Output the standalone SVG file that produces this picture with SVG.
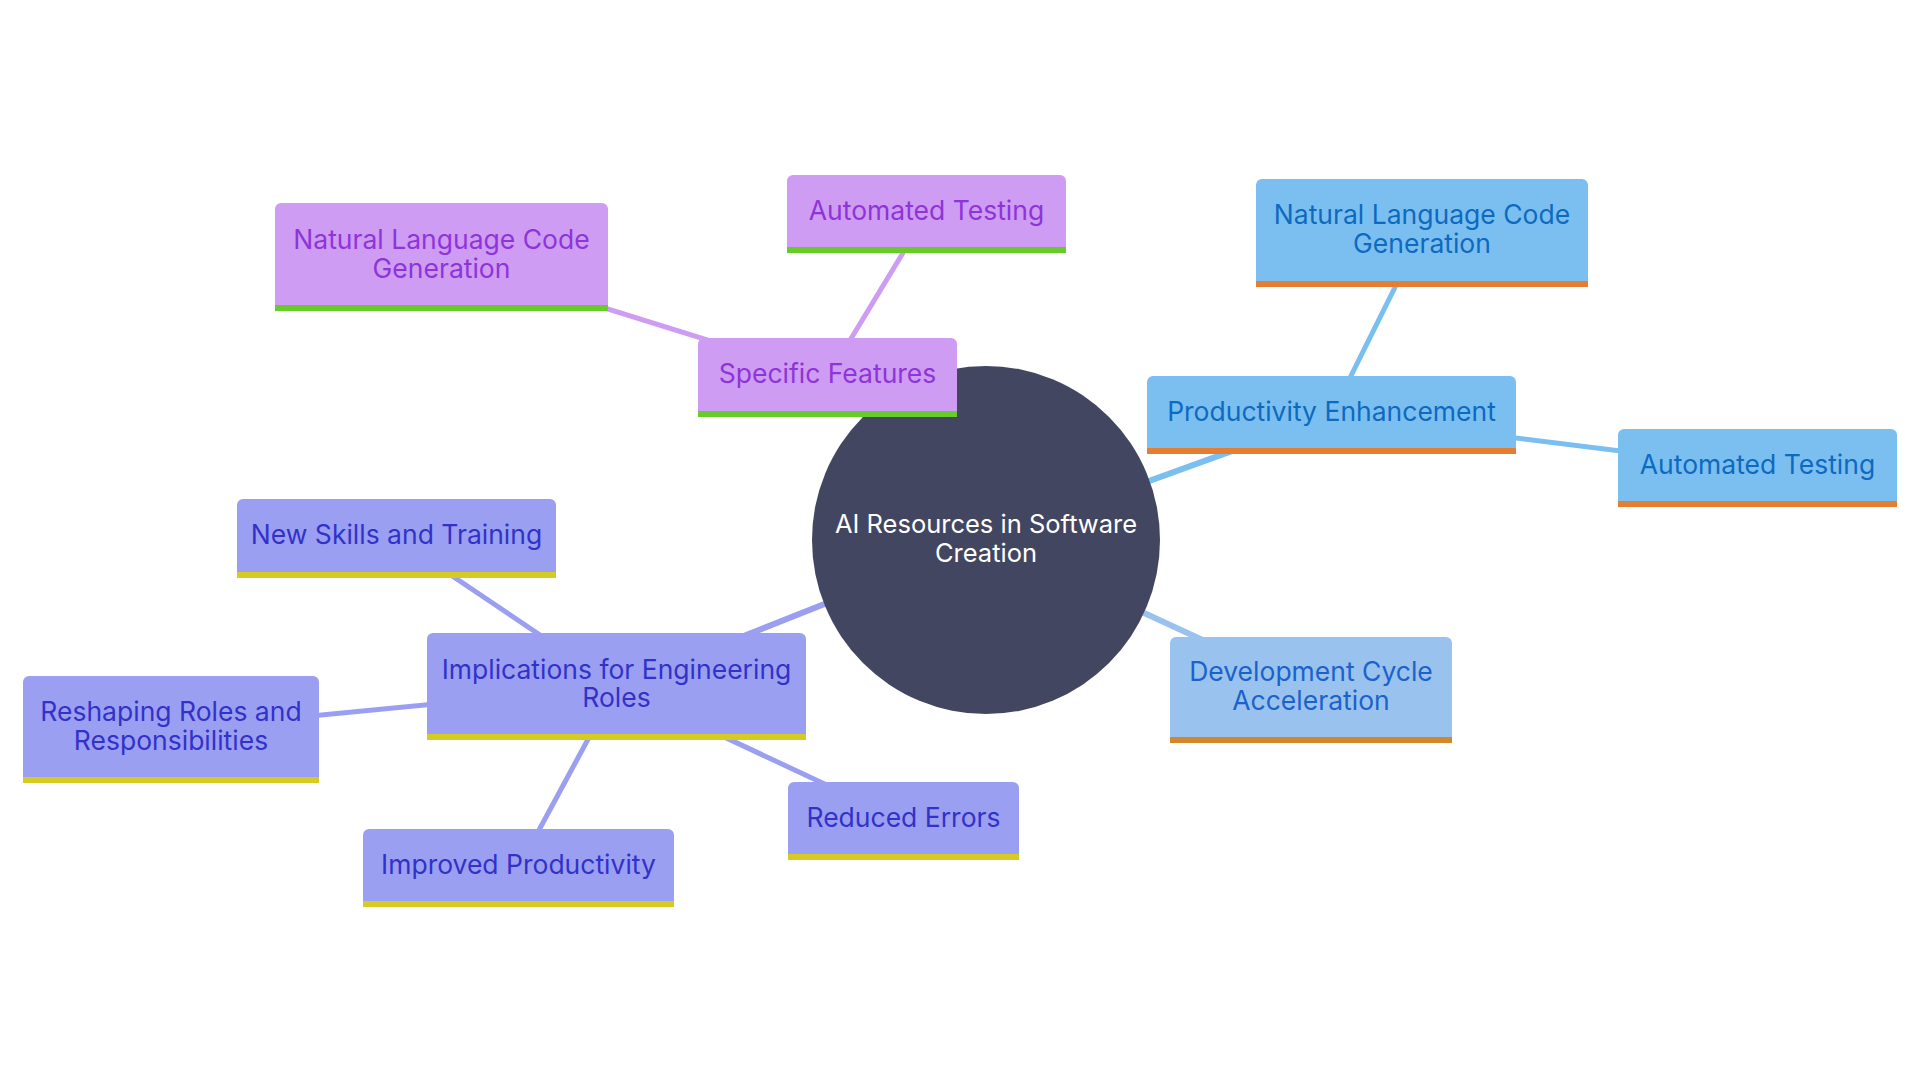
<svg xmlns="http://www.w3.org/2000/svg" width="1920" height="1080" viewBox="0 0 1920 1080">
<style>
  text { font-family: Inter, "Noto Sans", "Liberation Sans", sans-serif; font-size: 26.5px; text-anchor: middle; }
  .edge { fill: none; stroke-linecap: round; }
  .e0 { stroke-width: 6; }
  .e1 { stroke-width: 5; }
  .purple .box { fill: #CE9CF2; }
  .purple .band { fill: #67CB2A; }
  .purple text { fill: #8E34D8; }
  .blue .box { fill: #7BBFF0; }
  .blue .band { fill: #E67E31; }
  .blue text { fill: #0E6ABF; }
  .lblue .box { fill: #9AC2EE; }
  .lblue .band { fill: #D4862A; }
  .lblue text { fill: #1B62CB; }
  .indigo .box { fill: #9B9FF2; }
  .indigo .band { fill: #D6CB22; }
  .indigo text { fill: #3232C8; }
  .sp { stroke: #CE9CF2; }
  .sb { stroke: #7BBFF0; }
  .sl { stroke: #9AC2EE; }
  .si { stroke: #9B9FF2; }
  #root text { fill: #FFFFFF; font-size: 25.5px; }
</style>
<rect width="1920" height="1080" fill="#FFFFFF"/>
<g id="connectors">
  <line class="edge e0 sp" x1="986" y1="540" x2="827.5" y2="377.5"/>
  <line class="edge e0 sb" x1="986" y1="540" x2="1331.5" y2="415"/>
  <line class="edge e0 sl" x1="986" y1="540" x2="1311" y2="690"/>
  <line class="edge e0 si" x1="986" y1="540" x2="616.5" y2="686.5"/>
  <line class="edge e1 sp" x1="827.5" y1="377.5" x2="926.5" y2="214"/>
  <line class="edge e1 sp" x1="827.5" y1="377.5" x2="441.5" y2="257"/>
  <line class="edge e1 sb" x1="1331.5" y1="415" x2="1422" y2="233"/>
  <line class="edge e1 sb" x1="1331.5" y1="415" x2="1757.5" y2="468"/>
  <line class="edge e1 si" x1="616.5" y1="686.5" x2="396.5" y2="538.5"/>
  <line class="edge e1 si" x1="616.5" y1="686.5" x2="171" y2="729.5"/>
  <line class="edge e1 si" x1="616.5" y1="686.5" x2="518.5" y2="868"/>
  <line class="edge e1 si" x1="616.5" y1="686.5" x2="903.5" y2="821"/>
</g>
<g id="root">
  <circle cx="986" cy="540" r="174" fill="#424660"/>
  <text x="986" y="533">AI Resources in Software</text>
  <text x="986" y="562">Creation</text>
</g>
<g id="specific-features" class="purple">
  <rect class="box" x="698" y="338" width="259" height="79" rx="6"/>
  <rect class="band" x="698" y="411" width="259" height="6"/>
  <text x="827.5" y="383">Specific Features</text>
</g>
<g id="sf-automated-testing" class="purple">
  <rect class="box" x="787" y="175" width="279" height="78" rx="6"/>
  <rect class="band" x="787" y="247" width="279" height="6"/>
  <text x="926.5" y="220">Automated Testing</text>
</g>
<g id="sf-nl-code-generation" class="purple">
  <rect class="box" x="275" y="203" width="333" height="108" rx="6"/>
  <rect class="band" x="275" y="305" width="333" height="6"/>
  <text x="441.5" y="248.5">Natural Language Code</text>
  <text x="441.5" y="277.5">Generation</text>
</g>
<g id="productivity-enhancement" class="blue">
  <rect class="box" x="1147" y="376" width="369" height="78" rx="6"/>
  <rect class="band" x="1147" y="448" width="369" height="6"/>
  <text x="1331.5" y="420.5">Productivity Enhancement</text>
</g>
<g id="pe-nl-code-generation" class="blue">
  <rect class="box" x="1256" y="179" width="332" height="108" rx="6"/>
  <rect class="band" x="1256" y="281" width="332" height="6"/>
  <text x="1422" y="223.5">Natural Language Code</text>
  <text x="1422" y="252.5">Generation</text>
</g>
<g id="pe-automated-testing" class="blue">
  <rect class="box" x="1618" y="429" width="279" height="78" rx="6"/>
  <rect class="band" x="1618" y="501" width="279" height="6"/>
  <text x="1757.5" y="473.5">Automated Testing</text>
</g>
<g id="development-cycle-acceleration" class="lblue">
  <rect class="box" x="1170" y="637" width="282" height="106" rx="6"/>
  <rect class="band" x="1170" y="737" width="282" height="6"/>
  <text x="1311" y="681">Development Cycle</text>
  <text x="1311" y="710">Acceleration</text>
</g>
<g id="implications" class="indigo">
  <rect class="box" x="427" y="633" width="379" height="107" rx="6"/>
  <rect class="band" x="427" y="734" width="379" height="6"/>
  <text x="616.5" y="678.5">Implications for Engineering</text>
  <text x="616.5" y="707">Roles</text>
</g>
<g id="new-skills" class="indigo">
  <rect class="box" x="237" y="499" width="319" height="79" rx="6"/>
  <rect class="band" x="237" y="572" width="319" height="6"/>
  <text x="396.5" y="544">New Skills and Training</text>
</g>
<g id="reshaping-roles" class="indigo">
  <rect class="box" x="23" y="676" width="296" height="107" rx="6"/>
  <rect class="band" x="23" y="777" width="296" height="6"/>
  <text x="171" y="721">Reshaping Roles and</text>
  <text x="171" y="750">Responsibilities</text>
</g>
<g id="improved-productivity" class="indigo">
  <rect class="box" x="363" y="829" width="311" height="78" rx="6"/>
  <rect class="band" x="363" y="901" width="311" height="6"/>
  <text x="518.5" y="874">Improved Productivity</text>
</g>
<g id="reduced-errors" class="indigo">
  <rect class="box" x="788" y="782" width="231" height="78" rx="6"/>
  <rect class="band" x="788" y="854" width="231" height="6"/>
  <text x="903.5" y="827">Reduced Errors</text>
</g>
</svg>
